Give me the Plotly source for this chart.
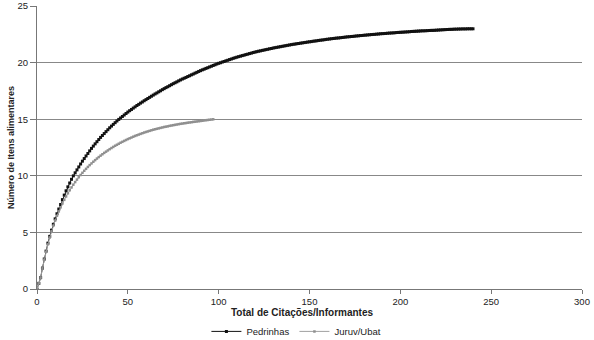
import plotly.graph_objects as go

# Pedrinhas: cumulative number of food items vs citations (x = 0..240)
pedrinhas_x = list(range(0, 241))
pedrinhas_y = [
    0, 0.5, 1.0, 1.85, 2.65, 3.35, 4.05, 4.65, 5.2, 5.72,
    6.2, 6.65, 7.07, 7.47, 7.9, 8.3, 8.68, 9.03, 9.37, 9.7,
    10.0, 10.27, 10.53, 10.79, 11.05, 11.3, 11.53, 11.76, 11.98, 12.21,
    12.43, 12.63, 12.83, 13.02, 13.21, 13.4, 13.57, 13.74, 13.91, 14.08,
    14.25, 14.4, 14.55, 14.7, 14.85, 14.99, 15.12, 15.25, 15.38, 15.51,
    15.64, 15.76, 15.87, 15.99, 16.1, 16.22, 16.32, 16.43, 16.53, 16.64,
    16.74, 16.84, 16.94, 17.04, 17.14, 17.24, 17.33, 17.43, 17.52, 17.62,
    17.71, 17.8, 17.88, 17.97, 18.06, 18.15, 18.23, 18.31, 18.4, 18.48,
    18.56, 18.63, 18.7, 18.78, 18.85, 18.93, 19.0, 19.08, 19.15, 19.23,
    19.3, 19.37, 19.43, 19.5, 19.56, 19.63, 19.69, 19.76, 19.82, 19.89,
    19.95, 20.0, 20.06, 20.11, 20.17, 20.22, 20.28, 20.33, 20.39, 20.44,
    20.49, 20.54, 20.58, 20.63, 20.67, 20.72, 20.76, 20.81, 20.85, 20.9,
    20.94, 20.98, 21.02, 21.05, 21.09, 21.12, 21.16, 21.19, 21.23, 21.26,
    21.3, 21.33, 21.36, 21.39, 21.42, 21.45, 21.48, 21.51, 21.54, 21.57,
    21.6, 21.63, 21.65, 21.68, 21.7, 21.73, 21.75, 21.78, 21.8, 21.83,
    21.85, 21.87, 21.9, 21.92, 21.94, 21.97, 21.99, 22.01, 22.03, 22.06,
    22.08, 22.1, 22.12, 22.14, 22.16, 22.18, 22.19, 22.21, 22.23, 22.25,
    22.27, 22.29, 22.3, 22.32, 22.33, 22.35, 22.37, 22.38, 22.4, 22.41,
    22.43, 22.44, 22.46, 22.47, 22.49, 22.5, 22.51, 22.53, 22.54, 22.56,
    22.57, 22.58, 22.59, 22.61, 22.62, 22.63, 22.64, 22.65, 22.67, 22.68,
    22.69, 22.7, 22.71, 22.72, 22.73, 22.74, 22.76, 22.77, 22.78, 22.79,
    22.8, 22.81, 22.82, 22.82, 22.83, 22.84, 22.85, 22.86, 22.86, 22.87,
    22.88, 22.89, 22.9, 22.91, 22.92, 22.93, 22.94, 22.95, 22.95, 22.96,
    22.97, 22.97, 22.98, 22.98, 22.99, 22.99, 22.99, 23.0, 23.0, 23.0,
    23.0,
]

# Juruv/Ubat (x = 0..97)
juruv_x = list(range(0, 98))
juruv_y = [
    0, 0.5, 1.0, 1.83, 2.6, 3.3, 3.95, 4.55, 5.1, 5.6,
    6.05, 6.47, 6.86, 7.22, 7.56, 7.88, 8.18, 8.46, 8.73, 8.98,
    9.22, 9.45, 9.67, 9.88, 10.08, 10.27, 10.45, 10.62, 10.79, 10.95,
    11.1, 11.25, 11.39, 11.53, 11.66, 11.79, 11.91, 12.03, 12.14, 12.25,
    12.36, 12.46, 12.56, 12.66, 12.75, 12.84, 12.93, 13.01, 13.09, 13.17,
    13.25, 13.32, 13.39, 13.46, 13.53, 13.59, 13.65, 13.71, 13.77, 13.83,
    13.88, 13.93, 13.98, 14.03, 14.08, 14.12, 14.16, 14.2, 14.24, 14.28,
    14.32, 14.35, 14.38, 14.42, 14.45, 14.48, 14.51, 14.54, 14.57, 14.6,
    14.62, 14.65, 14.67, 14.7, 14.72, 14.74, 14.77, 14.79, 14.81, 14.83,
    14.85, 14.87, 14.9, 14.92, 14.94, 14.96, 14.98, 15.0,
]

x_ticks = [0, 50, 100, 150, 200, 250, 300]
y_ticks = [0, 5, 10, 15, 20, 25]

FONT = "Liberation Sans, Arial, sans-serif"
L, R, T, B = 36.5, 12.3, 6.3, 50.7
W, H = 594, 340
PW = W - L - R
PH = H - T - B

fig = go.Figure()
fig.add_trace(go.Scatter(
    x=pedrinhas_x, y=pedrinhas_y, name="Pedrinhas", mode="lines+markers",
    line=dict(color="#111111", width=1),
    marker=dict(symbol="square", size=3, color="#111111"),
))
fig.add_trace(go.Scatter(
    x=juruv_x, y=juruv_y, name="Juruv/Ubat", mode="lines+markers",
    line=dict(color="#a0a0a0", width=1),
    marker=dict(symbol="square", size=2.5, color="#909090"),
))

fig.update_layout(
    width=W, height=H,
    margin=dict(l=L, r=R, t=T, b=B, autoexpand=False),
    paper_bgcolor="white", plot_bgcolor="white",
    font=dict(family=FONT, size=9.5, color="#222222"),
    showlegend=True,
    legend=dict(
        orientation="h", x=(296 - L) / PW, xanchor="center",
        y=(H - B - 331.7) / PH, yanchor="middle",
        font=dict(size=9.5), itemwidth=30, tracegroupgap=0,
        bgcolor="rgba(0,0,0,0)",
    ),
    xaxis=dict(
        range=[0, 300], tickvals=x_ticks, ticktext=[str(v) for v in x_ticks],
        showgrid=False, zeroline=False, showline=True, linecolor="#777777",
        linewidth=1, ticks="outside", ticklen=4, tickcolor="#777777",
        automargin=False,
    ),
    yaxis=dict(
        range=[0, 25.015], tickvals=y_ticks, ticktext=[str(v) for v in y_ticks],
        showgrid=True, gridcolor="#888888", gridwidth=1,
        zeroline=False, showline=True, linecolor="#777777", linewidth=1,
        ticks="outside", ticklen=6, tickcolor="#777777",
        automargin=False,
    ),
    annotations=[
        dict(text="<b>Total de Citações/Informantes</b>", xref="paper",
             yref="paper", x=(301.7 - L) / PW, y=(H - B - 313) / PH,
             xanchor="center", yanchor="middle", showarrow=False,
             font=dict(size=10)),
        dict(text="<b>Número de Itens alimentares</b>", xref="paper",
             yref="paper", x=(10 - L) / PW, y=0.5, textangle=-90,
             xanchor="center", yanchor="middle", showarrow=False,
             font=dict(size=9)),
    ],
)

fig.write_html(
    "out.html",
    config={"displayModeBar": False},
    post_script="document.body.style.margin='0';document.body.style.padding='0';"
                "document.body.style.overflow='hidden';",
)
